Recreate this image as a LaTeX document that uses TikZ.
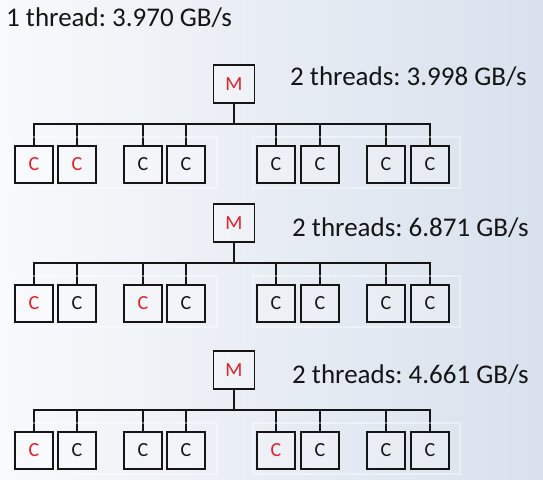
\documentclass[tikz,border=0pt]{standalone}
\usepackage{fontspec}
\setmainfont{Carlito}
\frenchspacing
\definecolor{bgL}{HTML}{F8F9FB}
\definecolor{bgR}{HTML}{D8E1ED}
\definecolor{cred}{HTML}{E3202B}
\definecolor{ink}{HTML}{151515}
\tikzset{
  unit/.style={draw=ink, line width=1.6pt, fill=white, fill opacity=0.25, text opacity=1,
    inner sep=0pt, font=\fontsize{20}{24}\selectfont},
  mbox/.style={unit, minimum width=41pt, minimum height=38pt, text=cred},
  cbox/.style={unit, minimum width=38pt, minimum height=37pt, text=ink},
  hot/.style={text=cred},
  bus/.style={draw=ink, line width=1.8pt},
  stem/.style={draw=ink, line width=2.8pt},
  frame/.style={draw=white, draw opacity=0.4, line width=2pt},
  label/.style={anchor=base west, inner sep=0pt, text=ink, font=\fontsize{27}{32}\selectfont}
}
\begin{document}
\begin{tikzpicture}[x=1pt,y=-1pt]
\useasboundingbox (0,0) rectangle (543,479);
\shade[left color=bgL, right color=bgR] (0,0) rectangle (543,479);
\node[label] (t0) at (6,27) {1 thread: 3.970 GB/s};
\foreach \t/\T/\tx/\ty/\txt/\ra/\rb in {1/65/290/85/3.998/1/2, 2/204/292/236/6.871/1/3, 3/351/292/383/4.661/1/5}{
  \node[mbox] (m\t) at (234,\T+19) {M};
  \node[label] (txt\t) at (\tx,\ty) {2 threads: \txt\ GB/s};
  \coordinate (bm\t) at (234,\T+59);
  \foreach \i/\cx in {1/34,2/77,3/143,4/186,5/276,6/320,7/386,8/430}{
    \ifnum\i=\ra
      \node[cbox,hot] (c\t-\i) at (\cx,\T+99.5) {C};
    \else\ifnum\i=\rb
      \node[cbox,hot] (c\t-\i) at (\cx,\T+99.5) {C};
    \else
      \node[cbox] (c\t-\i) at (\cx,\T+99.5) {C};
    \fi\fi
    \coordinate (b\t-\i) at (\cx,\T+59);
    \draw[bus] (b\t-\i) -- (c\t-\i.north);
  }
  \draw[stem] (m\t.south) -- (bm\t);
  \draw[bus, line cap=rect] (b\t-1) -- (b\t-8);
  \draw[frame] (10,\T+72) rectangle (217,\T+123);
  \draw[frame] (253,\T+72) rectangle (460,\T+123);
}
\end{tikzpicture}
\end{document}
